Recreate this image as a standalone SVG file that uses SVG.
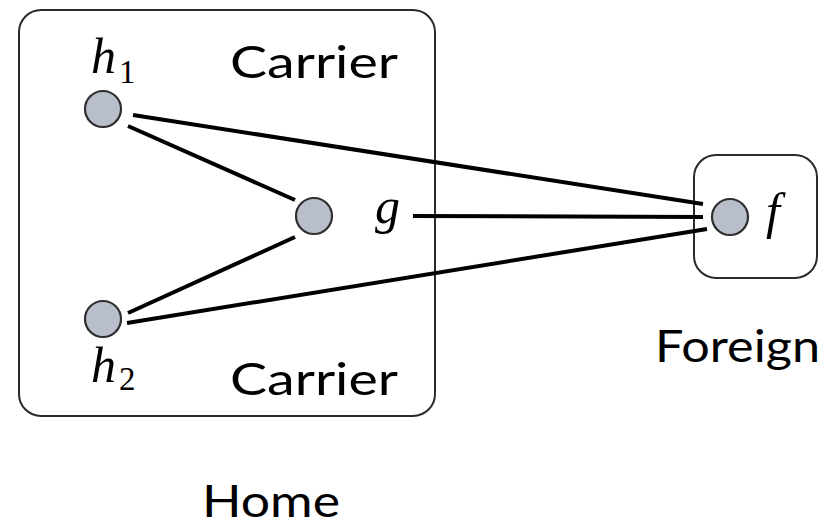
<svg xmlns="http://www.w3.org/2000/svg" width="835" height="530" viewBox="0 0 835 530">
<style>
.box{fill:none;stroke:#2b2b2b;stroke-width:2}
.node{fill:#b9bfca;stroke:#2e2e2e;stroke-width:2.2}
.edge{stroke:#000;stroke-width:4;stroke-linecap:butt;fill:none}
.lbl{font-family:Lato,"Open Sans","Liberation Sans",sans-serif;font-size:44px;fill:#000}
.math{font-family:"Liberation Serif","DejaVu Serif",serif;font-style:italic;font-size:50px;fill:#000}
.sub{font-family:"Liberation Serif","DejaVu Serif",serif;font-size:33px;fill:#000}
</style>
<rect width="835" height="530" fill="#fff"/>
<g id="home">
<rect class="box" x="19" y="10" width="416" height="406" rx="22"/>
<text class="lbl" x="202" y="517" textLength="138" lengthAdjust="spacingAndGlyphs">Home</text>
<text class="lbl" x="230" y="78" textLength="168" lengthAdjust="spacingAndGlyphs">Carrier</text>
<text class="lbl" x="230" y="395" textLength="168" lengthAdjust="spacingAndGlyphs">Carrier</text>
</g>
<g id="foreign">
<rect class="box" x="694" y="155" width="123" height="123" rx="22"/>
<text class="lbl" x="655" y="362" textLength="165" lengthAdjust="spacingAndGlyphs">Foreign</text>
</g>
<g id="edges">
<line class="edge" x1="133" y1="115" x2="703" y2="204"/>
<line class="edge" x1="128" y1="126" x2="295" y2="200"/>
<line class="edge" x1="128" y1="313" x2="295" y2="237"/>
<line class="edge" x1="127" y1="323" x2="707" y2="229"/>
<line class="edge" x1="413" y1="216" x2="703" y2="217"/>
</g>
<g id="node-h1">
<circle class="node" cx="103" cy="109" r="18"/>
<text class="math" x="91" y="73">h</text><text class="sub" x="119" y="83">1</text>
</g>
<g id="node-g">
<circle class="node" cx="314" cy="216" r="18"/>
<text class="math" x="375" y="223">g</text>
</g>
<g id="node-h2">
<circle class="node" cx="103" cy="319" r="18"/>
<text class="math" x="91" y="382">h</text><text class="sub" x="119" y="390">2</text>
</g>
<g id="node-f">
<circle class="node" cx="730" cy="217" r="18"/>
<text class="math" x="766" y="228">f</text>
</g>
</svg>
